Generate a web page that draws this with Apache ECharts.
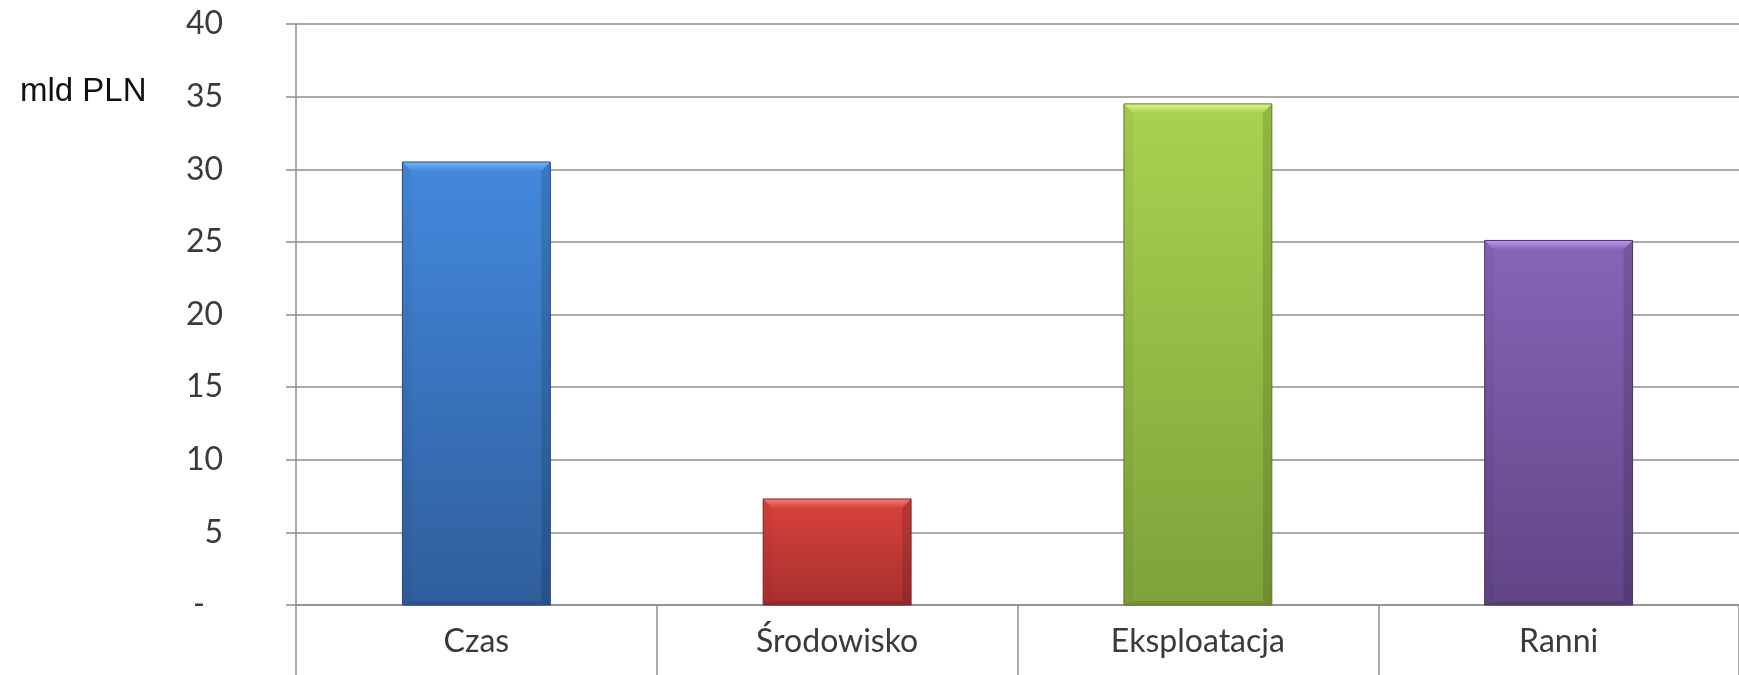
<!DOCTYPE html>
<html>
<head>
<meta charset="utf-8">
<script src="https://cdn.jsdelivr.net/npm/echarts@6/dist/echarts.min.js"></script>
<style>
  html, body { margin: 0; padding: 0; background: #fff; }
  #chart { width: 1739px; height: 675px; }
</style>
</head>
<body>
<div id="chart"></div>
<script>
// Costs by category, in billions of PLN
const categories = ['Czas', 'Środowisko', 'Eksploatacja', 'Ranni'];
const values = [30.5, 7.3, 34.5, 25.1];
const unitLabel = 'mld PLN';

// Per-bar colours: bevel highlight, body top, body bottom, edge
const palettes = [
  { hi: '#79b4f2', top: '#4389de', bottom: '#2f5e9b', edge: '#24487a' },
  { hi: '#f27a74', top: '#d8423d', bottom: '#a8302d', edge: '#7e2321' },
  { hi: '#def588', top: '#a9d24f', bottom: '#7fa23a', edge: '#5e782a' },
  { hi: '#bf98ec', top: '#8864b8', bottom: '#614586', edge: '#463263' }
];

const axisFont = 'Lato, "Open Sans", sans-serif';
const chart = echarts.init(document.getElementById('chart'), null, { renderer: 'canvas' });

// Bar with a bevelled top and shaded sides, positioned from the axis scales
function renderBar(params, api) {
  const i = api.value(0);
  const v = api.value(1);
  const top = api.coord([i, v]);
  const base = api.coord([i, 0]);
  const bw = api.size([1, 0])[0] * 0.41;
  const x0 = top[0] - bw / 2, x1 = x0 + bw;
  const y0 = top[1], y1 = base[1];
  const b = 9;
  const p = palettes[i];
  return {
    type: 'group',
    children: [
      {
        type: 'rect',
        shape: { x: x0, y: y0, width: bw, height: y1 - y0 },
        style: {
          fill: new echarts.graphic.LinearGradient(0, 0, 0, 1, [
            { offset: 0, color: p.top },
            { offset: 1, color: p.bottom }
          ])
        }
      },
      {
        type: 'polygon',
        shape: { points: [[x0, y0], [x1, y0], [x1 - b, y0 + b], [x0 + b, y0 + b]] },
        style: {
          fill: new echarts.graphic.LinearGradient(0, 0, 0, 1, [
            { offset: 0, color: p.hi },
            { offset: 1, color: p.top }
          ])
        }
      },
      {
        type: 'polygon',
        shape: { points: [[x0, y0], [x0 + b, y0 + b], [x0 + b, y1 - 4], [x0, y1]] },
        style: { fill: 'rgba(0,0,0,0.04)' }
      },
      {
        type: 'polygon',
        shape: { points: [[x1, y0], [x1 - b, y0 + b], [x1 - b, y1 - 4], [x1, y1]] },
        style: { fill: 'rgba(0,0,0,0.13)' }
      },
      {
        type: 'polygon',
        shape: { points: [[x0, y1], [x0 + b, y1 - 4], [x1 - b, y1 - 4], [x1, y1]] },
        style: { fill: 'rgba(0,0,0,0.1)' }
      },
      {
        type: 'rect',
        shape: { x: x0, y: y0, width: bw, height: y1 - y0 },
        style: { fill: 'none', stroke: p.edge, lineWidth: 1 }
      }
    ]
  };
}

chart.setOption({
  animation: false,
  backgroundColor: '#ffffff',
  title: {
    text: unitLabel,
    left: 15,
    top: 70,
    textStyle: { fontFamily: '"Liberation Sans", Arial, sans-serif', fontSize: 33, fontWeight: 'normal', color: '#111' }
  },
  grid: { left: 296, right: -8, top: 24, bottom: 70, containLabel: false },
  xAxis: {
    type: 'category',
    data: categories,
    boundaryGap: true,
    axisLine: { show: true, lineStyle: { color: '#8e8e8e', width: 1.5 } },
    axisTick: { show: true, interval: 0, length: 72, lineStyle: { color: '#8e8e8e', width: 1.5 } },
    axisLabel: { interval: 0, margin: 21, fontFamily: axisFont, fontSize: 32, color: '#3a3a3a' }
  },
  yAxis: {
    type: 'value',
    min: 0,
    max: 40,
    interval: 5,
    axisLine: { show: true, lineStyle: { color: '#8e8e8e', width: 1.5 } },
    axisTick: { show: true, length: 10, lineStyle: { color: '#8e8e8e', width: 1.5 } },
    splitLine: { show: true, lineStyle: { color: '#8e8e8e', width: 1.5 } },
    axisLabel: {
      margin: 73,
      fontFamily: axisFont,
      fontSize: 32,
      color: '#3a3a3a',
      formatter: function (v) { return v === 0 ? '{dash|-}' : String(v); },
      rich: { dash: { fontFamily: axisFont, fontSize: 32, color: '#3a3a3a', padding: [0, 18, 0, 0] } }
    }
  },
  series: [{
    type: 'custom',
    renderItem: renderBar,
    encode: { x: 0, y: 1 },
    data: values.map(function (v, i) { return [i, v]; })
  }]
});
</script>
</body>
</html>
